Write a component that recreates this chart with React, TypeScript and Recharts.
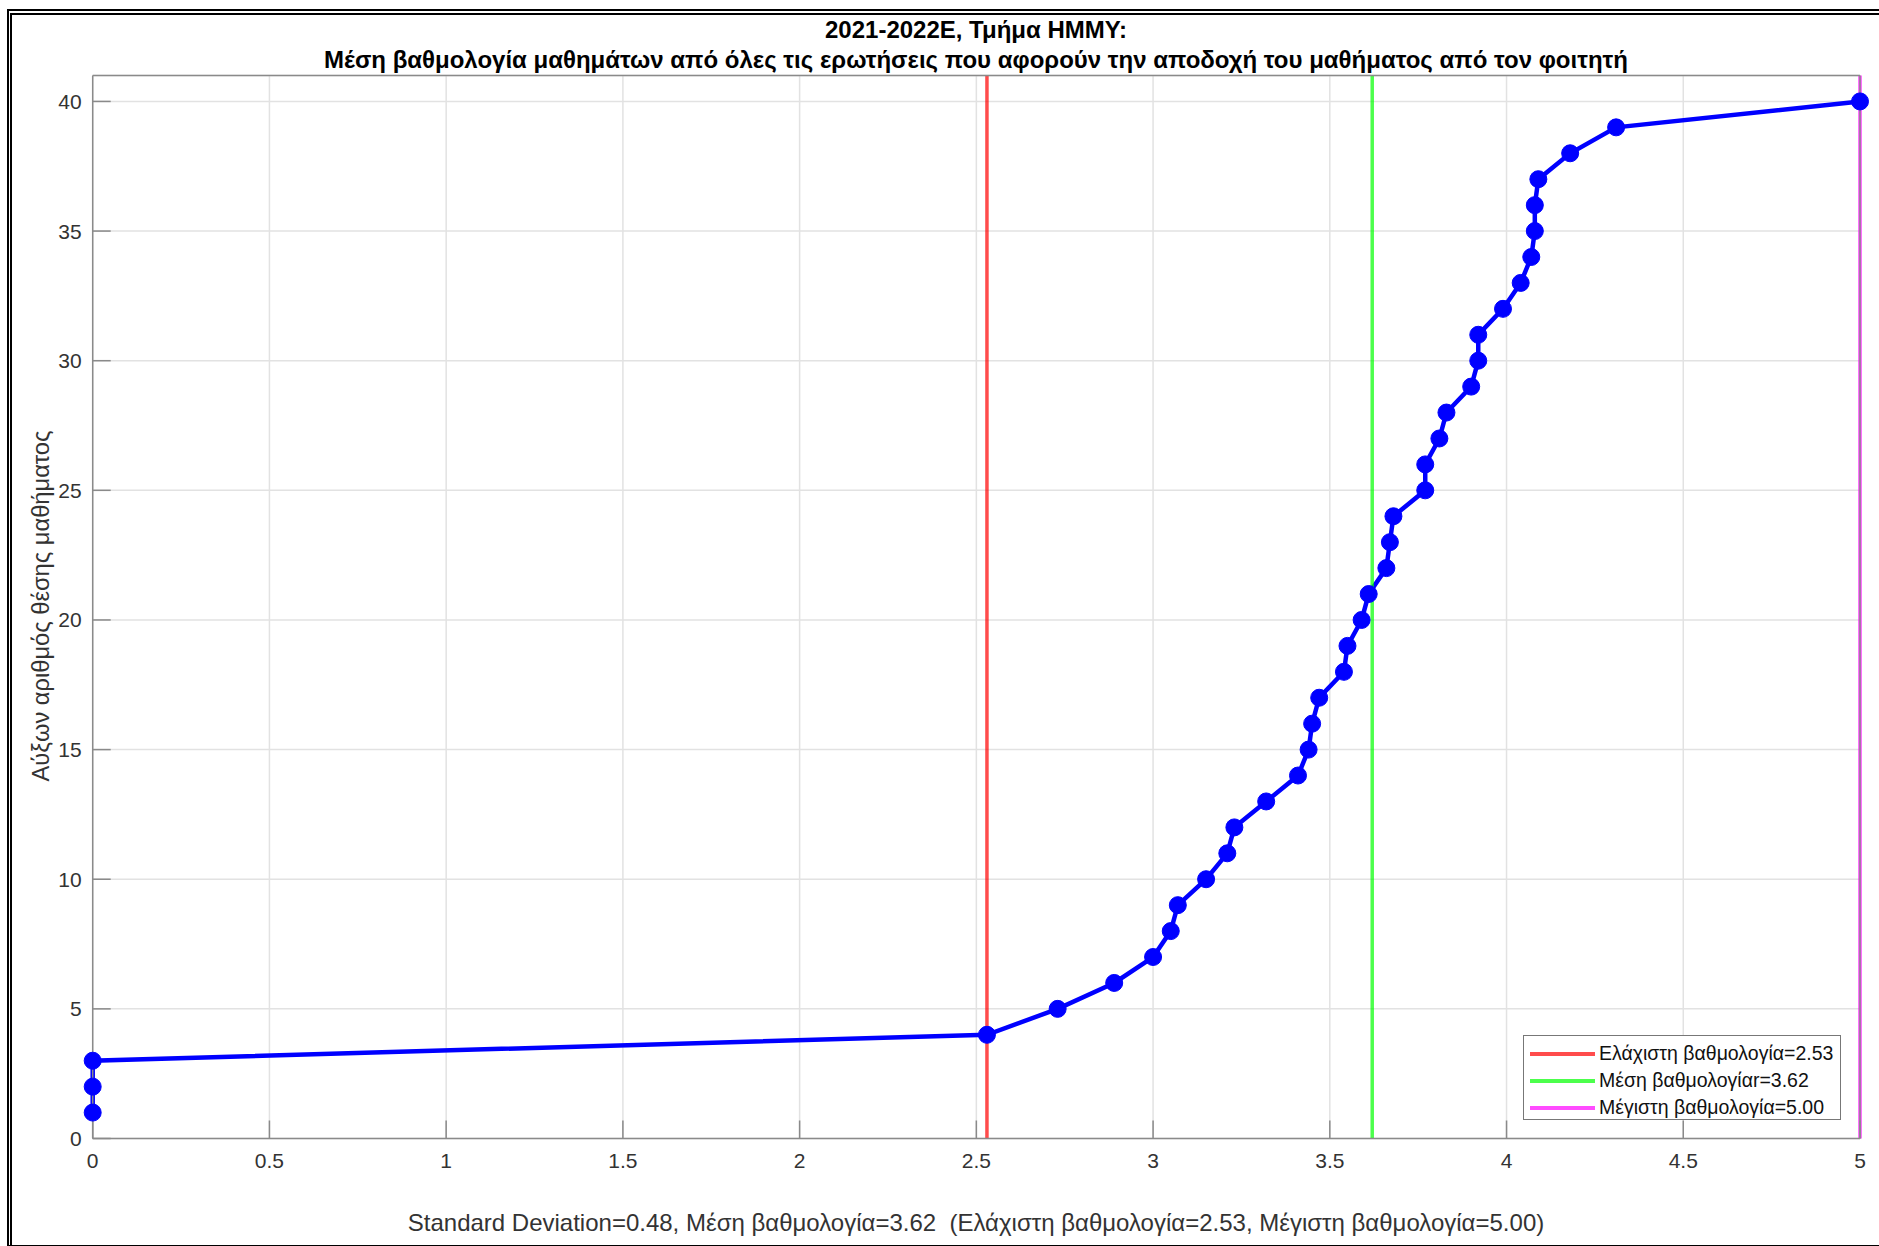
import React from "react"
import {
  LineChart,
  Line,
  XAxis,
  YAxis,
  CartesianGrid,
  ReferenceLine,
  Legend,
} from "recharts"

// Course averages sorted ascending, rank = position in list
const ranks = [
  1, 2, 3, 4, 5, 6, 7, 8, 9, 10, 11, 12, 13, 14, 15, 16, 17, 18, 19, 20,
  21, 22, 23, 24, 25, 26, 27, 28, 29, 30, 31, 32, 33, 34, 35, 36, 37, 38, 39, 40,
]
const grades = [
  0, 0, 0, 2.53, 2.73, 2.89, 3.0, 3.05, 3.07, 3.15, 3.21, 3.23, 3.32, 3.41, 3.44,
  3.45, 3.47, 3.54, 3.55, 3.59, 3.61, 3.66, 3.67, 3.68, 3.77, 3.77, 3.81, 3.83,
  3.9, 3.92, 3.92, 3.99, 4.04, 4.07, 4.08, 4.08, 4.09, 4.18, 4.31, 5.0,
]

const xTicks = [0, 0.5, 1, 1.5, 2, 2.5, 3, 3.5, 4, 4.5, 5]
const yTicks = [0, 5, 10, 15, 20, 25, 30, 35, 40]

const minGrade = 2.53
const meanGrade = 3.62
const maxGrade = 5.0

const legendLabels = [
  "Ελάχιστη βαθμολογία=2.53",
  "Μέση βαθμολογίαr=3.62",
  "Μέγιστη βαθμολογία=5.00",
]
const legendColors = ["#ff0000", "#00ff00", "#ff00ff"]

const titleLines = [
  "2021-2022Ε, Τμήμα ΗΜΜΥ:",
  "Μέση βαθμολογία μαθημάτων από όλες τις ερωτήσεις που αφορούν την αποδοχή του μαθήματος από τον φοιτητή",
]
const yLabel = "Αύξων αριθμός θέσης μαθήματος"
const xLabel =
  "Standard Deviation=0.48, Μέση βαθμολογία=3.62  (Ελάχιστη βαθμολογία=2.53, Μέγιστη βαθμολογία=5.00)"

const data = ranks.map((r, i) => ({ grade: grades[i], rank: r }))

const FONT = "'Liberation Sans', Arial, Helvetica, sans-serif"
const AXIS_COLOR = "#8a8a8a"
const TICK_TEXT = { fill: "#333333", fontSize: 21, fontFamily: FONT }

function LegendBox() {
  return (
    <div
      style={{
        border: "1.5px solid #777",
        background: "#fff",
        width: 318,
        height: 85,
        boxSizing: "border-box",
        paddingTop: 4,
      }}
    >
      {legendLabels.map((label, i) => (
        <div
          key={label}
          style={{ display: "flex", alignItems: "center", height: 27 }}
        >
          <div
            style={{
              width: 65,
              height: 4,
              marginLeft: 6,
              marginRight: 4,
              background: legendColors[i],
              opacity: 0.7,
            }}
          />
          <span
            style={{
              fontFamily: FONT,
              fontSize: 19.5,
              color: "#111",
              whiteSpace: "pre",
            }}
          >
            {label}
          </span>
        </div>
      ))}
    </div>
  )
}

export default function App() {
  return (
    <div
      style={{
        position: "absolute",
        left: 0,
        top: 0,
        width: 1879,
        height: 1246,
        background: "#fff",
        overflow: "hidden",
        fontFamily: FONT,
      }}
    >
      {/* double frame, cut off on the right */}
      <div
        style={{
          position: "absolute",
          left: 7,
          top: 9,
          width: 1900,
          height: 1234,
          borderLeft: "2px solid #000",
          borderTop: "2px solid #000",
          borderBottom: "2px solid #000",
        }}
      />
      <div
        style={{
          position: "absolute",
          left: 10,
          top: 13,
          width: 1900,
          height: 1230,
          borderLeft: "2px solid #000",
          borderTop: "2px solid #000",
        }}
      />

      <div style={{ position: "absolute", left: 0, top: 0 }}>
        <LineChart
          width={1879}
          height={1246}
          data={data}
          margin={{ top: 74.5, right: 18, bottom: 17.5, left: 32.7 }}
        >
          <CartesianGrid stroke="#e2e2e2" strokeWidth={1.5} />
          <XAxis
            dataKey="grade"
            type="number"
            domain={[0, 5]}
            ticks={xTicks}
            interval={0}
            height={90}
            stroke={AXIS_COLOR}
            strokeWidth={1.5}
            tickSize={-18}
            tickMargin={33}
            tick={TICK_TEXT}
          />
          <XAxis
            xAxisId="top"
            orientation="top"
            type="number"
            domain={[0, 5]}
            ticks={xTicks}
            interval={0}
            height={1}
            allowDataOverflow
            stroke={AXIS_COLOR}
            strokeWidth={1.5}
            tickSize={-18}
            tick={false}
          />
          <YAxis
            dataKey="rank"
            type="number"
            domain={[0, 41]}
            ticks={yTicks}
            interval={0}
            width={60}
            stroke={AXIS_COLOR}
            strokeWidth={1.5}
            tickSize={-18}
            tickMargin={29}
            tick={TICK_TEXT}
          />
          <YAxis
            yAxisId="right"
            orientation="right"
            type="number"
            domain={[0, 41]}
            ticks={yTicks}
            interval={0}
            width={1}
            allowDataOverflow
            stroke={AXIS_COLOR}
            strokeWidth={1.5}
            tickSize={-18}
            tick={false}
          />
          <Line
            dataKey="rank"
            type="linear"
            stroke="#0000ff"
            strokeWidth={4.5}
            dot={{ r: 8.5, fill: "#0000ff", stroke: "#0000ff", strokeWidth: 1 }}
            activeDot={false}
            isAnimationActive={false}
            legendType="none"
          />
          <ReferenceLine
            x={minGrade}
            stroke="#ff0000"
            strokeOpacity={0.7}
            strokeWidth={3.5}
          />
          <ReferenceLine
            x={meanGrade}
            stroke="#00ff00"
            strokeOpacity={0.7}
            strokeWidth={3.5}
          />
          <ReferenceLine
            x={maxGrade}
            stroke="#ff00ff"
            strokeOpacity={0.75}
            strokeWidth={3.5}
          />
          <Legend
            layout="vertical"
            align="center"
            verticalAlign="middle"
            content={() => <LegendBox />}
            wrapperStyle={{ left: 1523, top: 1035, width: 318, height: 85 }}
          />
        </LineChart>
      </div>

      {/* title */}
      {titleLines.map((t, i) => (
        <div
          key={t}
          style={{
            position: "absolute",
            left: 0,
            width: 1952,
            top: 16 + i * 30,
            textAlign: "center",
            fontWeight: "bold",
            fontSize: 24,
            lineHeight: "28px",
            color: "#000",
            whiteSpace: "pre",
          }}
        >
          {t}
        </div>
      ))}

      {/* y label */}
      <div
        style={{
          position: "absolute",
          left: 41,
          top: 606,
          transform: "translate(-50%, -50%) rotate(-90deg)",
          fontSize: 23.7,
          color: "#333",
          whiteSpace: "pre",
        }}
      >
        {yLabel}
      </div>

      {/* x label */}
      <div
        style={{
          position: "absolute",
          left: 0,
          width: 1952,
          top: 1208,
          textAlign: "center",
          fontSize: 24,
          lineHeight: "30px",
          color: "#333",
          whiteSpace: "pre",
        }}
      >
        {xLabel}
      </div>
    </div>
  )
}
